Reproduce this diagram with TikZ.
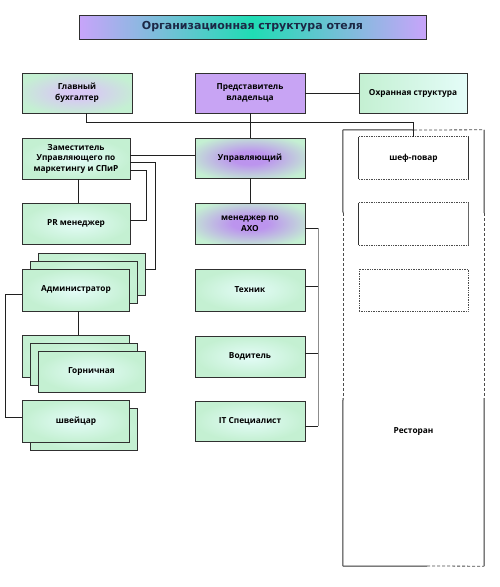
\documentclass[tikz,border=0pt]{standalone}
\usepackage{fontspec}
\setmainfont{Open Sans}
\newfontfamily\titlefont{DejaVu Sans}
\definecolor{mintout}{HTML}{C4F0D2}
\definecolor{mintin}{HTML}{E4FCF8}
\definecolor{purpin}{HTML}{BC94EE}
\definecolor{gbin}{HTML}{D8C8F4}
\definecolor{lav}{HTML}{C8A4F4}
\definecolor{teal}{HTML}{20DCB4}
\definecolor{titlelav}{HTML}{C8A4FA}
\definecolor{boxline}{HTML}{303030}
\definecolor{linec}{HTML}{202020}
\definecolor{navy}{HTML}{1C2846}
\pgfdeclareradialshading{purpsh}{\pgfpoint{0bp}{0bp}}{color(0bp)=(purpin); color(8bp)=(purpin); color(30bp)=(mintout); color(50bp)=(mintout)}
\pgfdeclareradialshading{gbsh}{\pgfpoint{0bp}{0bp}}{color(0bp)=(gbin); color(6bp)=(gbin); color(28bp)=(mintout); color(50bp)=(mintout)}
\begin{document}
\begin{tikzpicture}[x=1pt,y=-1pt,
  box/.style={draw=boxline, line width=0.9pt, minimum width=108pt, minimum height=41pt,
    inner sep=1pt, align=center, font=\bfseries\fontsize{8.3}{10.5}\selectfont, text=black},
  mintbox/.style={box, inner color=mintin, outer color=mintout},
  purpbox/.style={box, shading=purpsh},
  conn/.style={draw=linec, line width=0.9pt},
  dotb/.style={draw=black!70, line width=0.7pt, densely dotted},
  solb/.style={draw=black!80, line width=1pt},
  dashb/.style={draw=black!70, line width=0.8pt, densely dashed}]
\useasboundingbox (0,0) rectangle (500,587);

% title
\node[draw=boxline, line width=1pt, minimum width=347pt, minimum height=24pt, inner sep=0pt,
  left color=titlelav, right color=titlelav, middle color=teal,
  font=\titlefont\bfseries\fontsize{11}{13}\selectfont, text=navy] (title) at (252.5,27)
  {Организационная структура отеля};

% top row
\node[box, minimum width=110pt, minimum height=40pt, shading=gbsh] (gb) at (77,93) {Главный\\бухгалтер};
\node[box, minimum width=110pt, minimum height=40pt, fill=lav] (pv) at (250,93) {Представитель\\владельца};
\node[box, minimum width=108pt, minimum height=40pt, left color=mintout, right color=mintin] (ohr) at (413,93) {Охранная структура};

% left column
\node[mintbox] (zam) at (76,158.5) {Заместитель\\Управляющего по\\маркетингу и СПиР};
\node[mintbox] (pr) at (76,223.5) {PR менеджер};
\node[mintbox, minimum width=107pt, minimum height=42pt] (adm3) at (91.5,274) {};
\node[mintbox, minimum width=107pt, minimum height=42pt] (adm2) at (83.5,282) {};
\node[mintbox, minimum width=107pt, minimum height=42pt] (adm) at (76,290) {Администратор};
\node[mintbox, minimum width=107pt, minimum height=42pt] (gor3) at (76,356) {};
\node[mintbox, minimum width=107pt, minimum height=42pt] (gor2) at (83.5,364) {};
\node[mintbox, minimum width=107pt, minimum height=41pt] (gor) at (91.5,371.5) {Горничная};
\node[mintbox, minimum width=107pt, minimum height=42pt] (shv2) at (83.5,429) {};
\node[mintbox, minimum width=107pt, minimum height=42pt] (shv) at (76,421) {швейцар};

% middle column
\node[purpbox, minimum width=110pt, minimum height=40pt] (upr) at (250,158) {Управляющий};
\node[purpbox, minimum width=110pt] (axo) at (250,223.5) {менеджер по\\АХО};
\node[mintbox, minimum width=110pt, minimum height=42pt] (teh) at (250,290) {Техник};
\node[mintbox, minimum width=110pt] (vod) at (250,356.5) {Водитель};
\node[mintbox, minimum width=110pt, minimum height=40pt] (it) at (250,421) {IT Специалист};

% restaurant
\node[minimum width=141pt, minimum height=436pt, inner sep=0pt] (rest) at (413.5,348) {};
\node[font=\bfseries\fontsize{8.3}{10.5}\selectfont] (restlbl) at (413.5,432) {Ресторан};
\draw[solb] (rest.north west) -- (414,130);
\draw[dashb] (414,130) -- (rest.north east);
\draw[solb] (rest.north west) -- (343,213);
\draw[dashb] (343,213) -- (343,398);
\draw[solb] (343,398) -- (rest.south west);
\draw[solb] (rest.north east) -- (484,213);
\draw[dashb] (484,213) -- (484,398);
\draw[solb] (484,398) -- (rest.south east);
\draw[solb] (rest.south west) -- (427,566);
\draw[dashb] (427,566) -- (rest.south east);

\node[minimum width=109pt, minimum height=42pt, inner sep=0pt, font=\bfseries\fontsize{8.3}{10.5}\selectfont] (shef) at (413.5,158) {шеф-повар};
\draw[dotb] (shef.north west) -- (shef.north east);
\draw[dotb] (shef.south west) -- (shef.south east);
\draw[solb] (shef.north west) -- (shef.south west);
\draw[solb] (shef.north east) -- (shef.south east);

\node[minimum width=109pt, minimum height=42pt, inner sep=0pt] (e1) at (413.5,224) {};
\draw[dotb] (e1.north west) -- (e1.north east);
\draw[dotb] (e1.south west) -- (e1.south east);
\draw[solb] (e1.north west) -- (e1.south west);
\draw[solb, draw=black!60] (e1.north east) -- (e1.south east);

\node[minimum width=109pt, minimum height=42pt, inner sep=0pt, dotb] (e2) at (413.5,290) {};

% connectors
\draw[conn] (pv.east) -- (ohr.west);
\draw[conn] ([xshift=9pt]gb.south) -- ++(0,9) -| (shef.north);
\draw[conn] (pv.south) -- (upr.north);
\draw[conn] (zam.east |- 0,155) -- (upr.west |- 0,155);
\draw[conn] (zam.east |- 0,162) -- (155,162) -- (155,269) -- (adm3.east |- 0,269);
\draw[conn] (zam.east |- 0,170) -- (146,170) -- (146,220) -- (pr.east |- 0,220);
\draw[conn] ([xshift=2pt]zam.south) -- ([xshift=2pt]pr.north);
\draw[conn] (adm.west |- 0,294) -- (5,294) -- (5,417) -- (shv.west |- 0,417);
\draw[conn] ([xshift=2pt]adm.south) -- ([xshift=2pt]gor3.north);
\draw[conn] (upr.south) -- (axo.north);
\draw[conn] (axo.east |- 0,228) -- (318,228);
\draw[conn] (teh.east |- 0,286) -- (318,286);
\draw[conn] (vod.east |- 0,353) -- (318,353);
\draw[conn] (it.east |- 0,426) -- (318,426);
\draw[draw=black!45, line width=0.9pt] (318,228) -- (318,426);
\end{tikzpicture}
\end{document}
